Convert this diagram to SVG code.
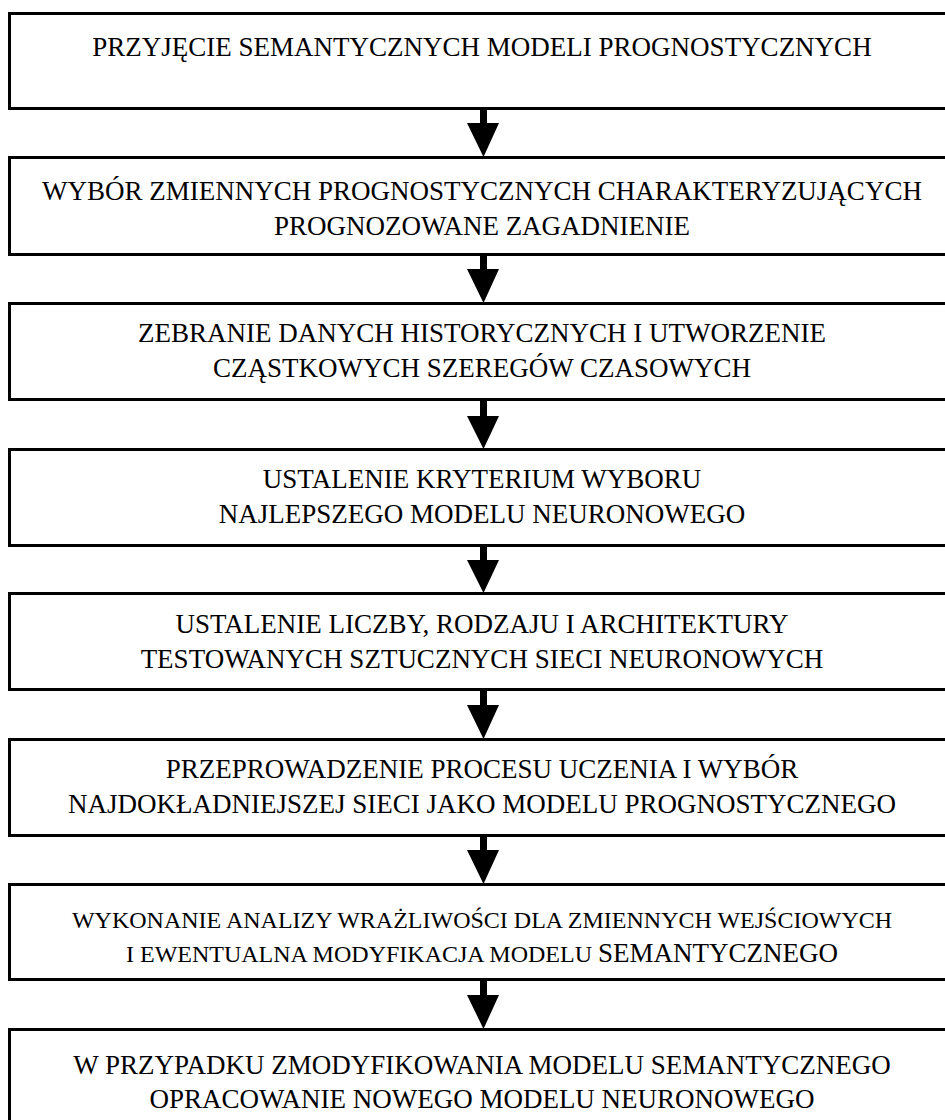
<svg xmlns="http://www.w3.org/2000/svg" width="945" height="1120" viewBox="0 0 945 1120">
<style>
.box{fill:#fff;stroke:#000;stroke-width:3}
.t{font-family:"Liberation Serif","Times New Roman",serif;font-size:27px;fill:#000;text-anchor:middle}
.s{font-size:24px}
.arr{fill:#000}
</style>
<rect x="0" y="0" width="945" height="1120" fill="#fff"/>
<g id="node1"><rect class="box" x="9.5" y="13.5" width="950" height="95"/><text class="t" x="482" y="56">PRZYJĘCIE SEMANTYCZNYCH MODELI PROGNOSTYCZNYCH</text></g>
<g id="node2"><rect class="box" x="9.5" y="157.5" width="950" height="97"/><text class="t" x="482" y="200">WYBÓR ZMIENNYCH PROGNOSTYCZNYCH CHARAKTERYZUJĄCYCH</text><text class="t" x="482" y="235">PROGNOZOWANE ZAGADNIENIE</text></g>
<g id="node3"><rect class="box" x="9.5" y="303.5" width="950" height="96"/><text class="t" x="482" y="342">ZEBRANIE DANYCH HISTORYCZNYCH I UTWORZENIE</text><text class="t" x="482" y="377">CZĄSTKOWYCH SZEREGÓW CZASOWYCH</text></g>
<g id="node4"><rect class="box" x="9.5" y="449.5" width="950" height="96"/><text class="t" x="482" y="488">USTALENIE KRYTERIUM WYBORU</text><text class="t" x="482" y="523">NAJLEPSZEGO MODELU NEURONOWEGO</text></g>
<g id="node5"><rect class="box" x="9.5" y="593.5" width="950" height="96"/><text class="t" x="482" y="633">USTALENIE LICZBY, RODZAJU I ARCHITEKTURY</text><text class="t" x="482" y="668">TESTOWANYCH SZTUCZNYCH SIECI NEURONOWYCH</text></g>
<g id="node6"><rect class="box" x="9.5" y="739.5" width="950" height="96"/><text class="t" x="482" y="778">PRZEPROWADZENIE PROCESU UCZENIA I WYBÓR</text><text class="t" x="482" y="813">NAJDOKŁADNIEJSZEJ SIECI JAKO MODELU PROGNOSTYCZNEGO</text></g>
<g id="node7"><rect class="box" x="9.5" y="884.5" width="950" height="95"/><text class="t s" x="482" y="928">WYKONANIE ANALIZY WRAŻLIWOŚCI DLA ZMIENNYCH WEJŚCIOWYCH</text><text class="t s" x="482" y="962">I EWENTUALNA MODYFIKACJA MODELU <tspan style="font-size:27px">SEMANTYCZNEGO</tspan></text></g>
<g id="node8"><rect class="box" x="9.5" y="1029.5" width="950" height="100"/><text class="t" x="482" y="1074">W PRZYPADKU ZMODYFIKOWANIA MODELU SEMANTYCZNEGO</text><text class="t" x="482" y="1108">OPRACOWANIE NOWEGO MODELU NEURONOWEGO</text></g>
<g id="connectors">
<polygon class="arr" points="480,108 487,108 487,123 499,123 483.5,157 467,123 480,123"/>
<polygon class="arr" points="480,255 487,255 487,269 499,269 483.5,303 467,269 480,269"/>
<polygon class="arr" points="480,399 487,399 487,416 499,416 483.5,449 467,416 480,416"/>
<polygon class="arr" points="480,546 487,546 487,560 499,560 483.5,593 467,560 480,560"/>
<polygon class="arr" points="480,689 487,689 487,705 499,705 483.5,739 467,705 480,705"/>
<polygon class="arr" points="480,836 487,836 487,850 499,850 483.5,884 467,850 480,850"/>
<polygon class="arr" points="480,979 487,979 487,995 499,995 483.5,1029 467,995 480,995"/>
</g>
</svg>
